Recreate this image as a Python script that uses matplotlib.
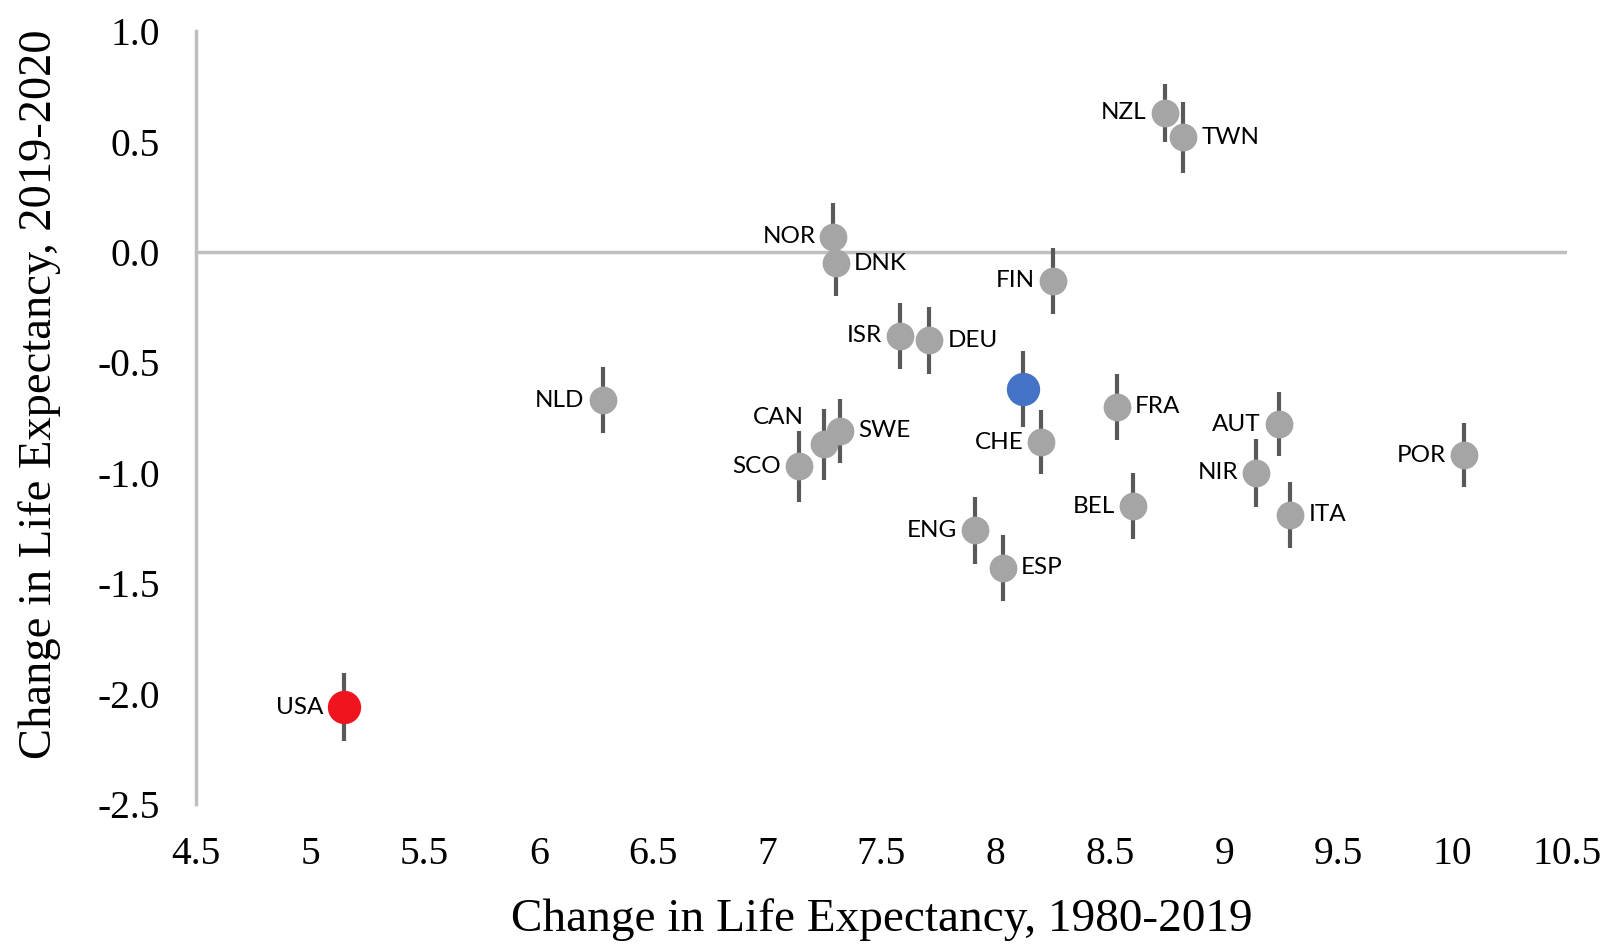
import numpy as np
import matplotlib
matplotlib.use('Agg')
import matplotlib.pyplot as plt
from matplotlib.ticker import FuncFormatter

# ── Data ──
countries = ['USA', 'NZL', 'TWN', 'NOR', 'DNK', 'FIN', 'ISR', 'DEU', 'AVG',
             'NLD', 'FRA', 'CAN', 'SWE', 'SCO', 'CHE', 'AUT', 'NIR', 'POR',
             'BEL', 'ITA', 'ENG', 'ESP']
le_1980_2019 = [5.15, 8.74, 8.82, 7.29, 7.30, 8.25, 7.58, 7.71, 8.12,
                6.28, 8.53, 7.25, 7.32, 7.14, 8.20, 9.24, 9.14, 10.05,
                8.60, 9.29, 7.91, 8.03]
le_2019_2020 = [-2.06, 0.63, 0.52, 0.07, -0.05, -0.13, -0.38, -0.40, -0.62,
                -0.67, -0.70, -0.87, -0.81, -0.97, -0.86, -0.78, -1.00, -0.92,
                -1.15, -1.19, -1.26, -1.43]
err_2019_2020 = [0.155, 0.13, 0.16, 0.15, 0.15, 0.15, 0.15, 0.15, 0.17,
                 0.15, 0.15, 0.16, 0.145, 0.16, 0.145, 0.145, 0.155, 0.145,
                 0.15, 0.15, 0.15, 0.15]
# label placement: 'l' left, 'r' right, 'ul' upper-left, '' none
label_side = ['l', 'l', 'r', 'l', 'r', 'l', 'l', 'r', '',
              'l', 'r', 'ul', 'r', 'l', 'l', 'l', 'l', 'l',
              'l', 'r', 'l', 'r']

# ── Colours ──
GREY = '#A5A5A5'
BLUE = '#4472C4'
RED = '#F0141E'
BAR = '#595959'
AXIS = '#BFBFBF'

fig = plt.figure(figsize=(16.06, 9.44), dpi=100)
ax = fig.add_axes([0.122, 0.148, 0.8537, 0.819])

for name, x, y, e, side in zip(countries, le_1980_2019, le_2019_2020,
                                err_2019_2020, label_side):
    if name == 'USA':
        col, ms = RED, 24
    elif name == 'AVG':
        col, ms = BLUE, 24
    else:
        col, ms = GREY, 20
    ax.errorbar(x, y, yerr=e, fmt='none', ecolor=BAR, elinewidth=3,
                capsize=0, zorder=3)
    ax.plot(x, y, 'o', color=col, markersize=ms, markeredgewidth=0, zorder=4)
    gap = ms / 2 + 3
    if side == 'l':
        ax.annotate(name, (x, y), xytext=(-gap, 0), textcoords='offset points',
                    ha='right', va='center', fontsize=17.5, family='Lato')
    elif side == 'r':
        ax.annotate(name, (x, y), xytext=(gap, 0), textcoords='offset points',
                    ha='left', va='center', fontsize=17.5, family='Lato')
    elif side == 'ul':
        ax.annotate(name, (x, y), xytext=(-15, 19), textcoords='offset points',
                    ha='right', va='center', fontsize=17.5, family='Lato')

ax.axhline(0, color=AXIS, linewidth=2.5, zorder=1)

ax.set_xlim(4.5, 10.5)
ax.set_ylim(-2.5, 1.0)
ax.set_xticks(np.arange(4.5, 10.51, 0.5))
ax.set_yticks(np.arange(-2.5, 1.01, 0.5))
ax.xaxis.set_major_formatter(FuncFormatter(lambda v, p: f'{v:g}'))
ax.yaxis.set_major_formatter(FuncFormatter(lambda v, p: f'{v:.1f}'))

for s in ['top', 'right', 'bottom']:
    ax.spines[s].set_visible(False)
ax.spines['left'].set_color(AXIS)
ax.spines['left'].set_linewidth(2.5)

ax.tick_params(axis='both', length=0, labelsize=28.5)
ax.tick_params(axis='x', pad=23)
ax.tick_params(axis='y', pad=26)
for lab in ax.get_xticklabels() + ax.get_yticklabels():
    lab.set_family('Liberation Serif')

ax.set_xlabel('Change in Life Expectancy, 1980-2019', fontsize=34,
              family='Liberation Serif', labelpad=18)
ax.set_ylabel('Change in Life Expectancy, 2019-2020', fontsize=33.5,
              family='Liberation Serif', labelpad=26)
ax.yaxis.label.set_y(0.53)

fig.savefig('out.png', dpi=100, facecolor='white')
